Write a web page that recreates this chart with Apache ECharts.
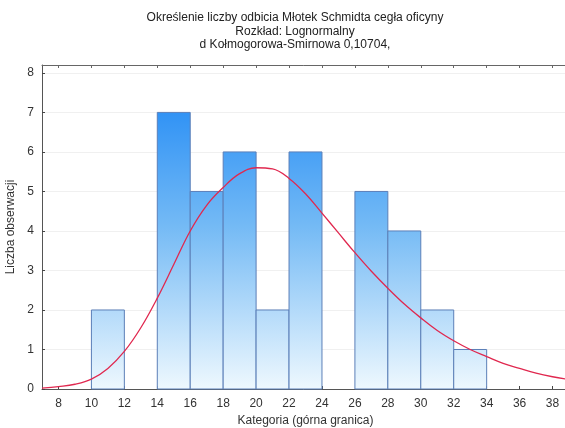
<!DOCTYPE html>
<html>
<head>
<meta charset="utf-8">
<script src="https://cdn.jsdelivr.net/npm/echarts@6/dist/echarts.min.js"></script>
<style>html,body{margin:0;padding:0;background:#fff;}#c{width:565px;height:428px;}</style>
</head>
<body>
<div id="c"></div>
<script>
const titleLines = ['Określenie liczby odbicia Młotek Schmidta cegła oficyny', 'Rozkład: Lognormalny', 'd Kołmogorowa-Smirnowa 0,10704,'];
const xName = 'Kategoria (górna granica)';
const yName = 'Liczba obserwacji';
// histogram bins: lower edge, upper edge, count
const binLower = [10, 12, 14, 16, 18, 20, 22, 24, 26, 28, 30, 32];
const binUpper = [12, 14, 16, 18, 20, 22, 24, 26, 28, 30, 32, 34];
const binCounts = [2, 0, 7, 5, 6, 2, 6, 0, 5, 4, 2, 1];
// fitted lognormal curve (expected counts)
const curveX = [7, 8, 9, 10, 11, 12, 13, 14, 15, 16, 17, 18, 19, 20, 21, 22, 23, 24, 25, 26, 27, 28, 29, 30, 31, 32, 33, 34, 35, 36, 37, 38, 39];
const curveY = [0.02, 0.06, 0.12, 0.25, 0.52, 0.95, 1.55, 2.3, 3.15, 4.0, 4.65, 5.1, 5.45, 5.6, 5.57, 5.33, 4.94, 4.45, 3.95, 3.45, 2.98, 2.55, 2.15, 1.8, 1.48, 1.22, 1.0, 0.82, 0.65, 0.52, 0.4, 0.31, 0.24];
const xTicks = [8, 10, 12, 14, 16, 18, 20, 22, 24, 26, 28, 30, 32, 34, 36, 38];
const yTicks = [0, 1, 2, 3, 4, 5, 6, 7, 8];

const chart = echarts.init(document.getElementById('c'));
const font = 'Liberation Sans, Arial, sans-serif';
const barData = binLower.map((l, i) => [l, binUpper[i], binCounts[i]]).filter(d => d[2] > 0);

chart.setOption({
  animation: false,
  backgroundColor: '#ffffff',
  title: {
    text: titleLines.join('\n'),
    left: 290, textAlign: 'center', top: 6,
    textStyle: { fontFamily: font, fontSize: 12, fontWeight: 'normal', color: '#222', lineHeight: 13.5 }
  },
  grid: { left: 42, right: -4, top: 65, bottom: 39, outerBoundsMode: 'none', containLabel: false },
  xAxis: [{
    type: 'value', min: 7, max: 39, interval: 1,
    name: xName, nameLocation: 'middle', nameGap: 26,
    nameTextStyle: { fontFamily: font, fontSize: 12, color: '#333' },
    axisLine: { show: true, lineStyle: { color: '#555', width: 1 } },
    axisTick: { show: true, inside: true, length: 3, customValues: xTicks, lineStyle: { color: '#444' } },
    axisLabel: { customValues: xTicks, fontFamily: font, fontSize: 12, color: '#333', margin: 9 },
    splitLine: { show: false }
  }, {
    type: 'value', position: 'top', min: 7, max: 39, interval: 1,
    axisLine: { show: true, onZero: false, lineStyle: { color: '#666', width: 1 } },
    axisTick: { show: true, inside: true, length: 3, customValues: xTicks, lineStyle: { color: '#666' } },
    axisLabel: { show: false },
    splitLine: { show: false }
  }],
  yAxis: [{
    type: 'value', min: 0, max: 8.2, interval: 1,
    name: yName, nameLocation: 'middle', nameGap: 14,
    nameTextStyle: { fontFamily: font, fontSize: 12, color: '#333' },
    axisLine: { show: true, lineStyle: { color: '#555', width: 1 } },
    axisTick: { show: true, inside: true, length: 3, customValues: yTicks, lineStyle: { color: '#444' } },
    axisLabel: { customValues: yTicks, fontFamily: font, fontSize: 12, color: '#333', margin: 8 },
    splitLine: { show: true, lineStyle: { color: '#f0f0f0', width: 1 } }
  }],
  series: [{
    type: 'custom',
    data: barData,
    renderItem: function (params, api) {
      const p0 = api.coord([api.value(0), api.value(2)]);
      const p1 = api.coord([api.value(1), 0]);
      const top = api.coord([0, 8])[1];
      const bottom = api.coord([0, 0])[1];
      return {
        type: 'rect',
        shape: { x: p0[0], y: p0[1], width: p1[0] - p0[0], height: p1[1] - p0[1] },
        style: {
          fill: {
            type: 'linear', x: 0, y: top - 10, x2: 0, y2: bottom, global: true,
            colorStops: [{ offset: 0, color: '#1482f5' }, { offset: 0.5, color: '#74baf5' }, { offset: 1, color: '#eef8fe' }]
          },
          stroke: '#5b7fb8', lineWidth: 1
        }
      };
    },
    encode: { x: [0, 1], y: 2 },
    z: 2
  }, {
    type: 'line',
    data: curveX.map((x, i) => [x, curveY[i]]),
    smooth: 0.4,
    showSymbol: false,
    lineStyle: { color: '#e0284f', width: 1.3 },
    z: 3
  }]
});
</script>
</body>
</html>
